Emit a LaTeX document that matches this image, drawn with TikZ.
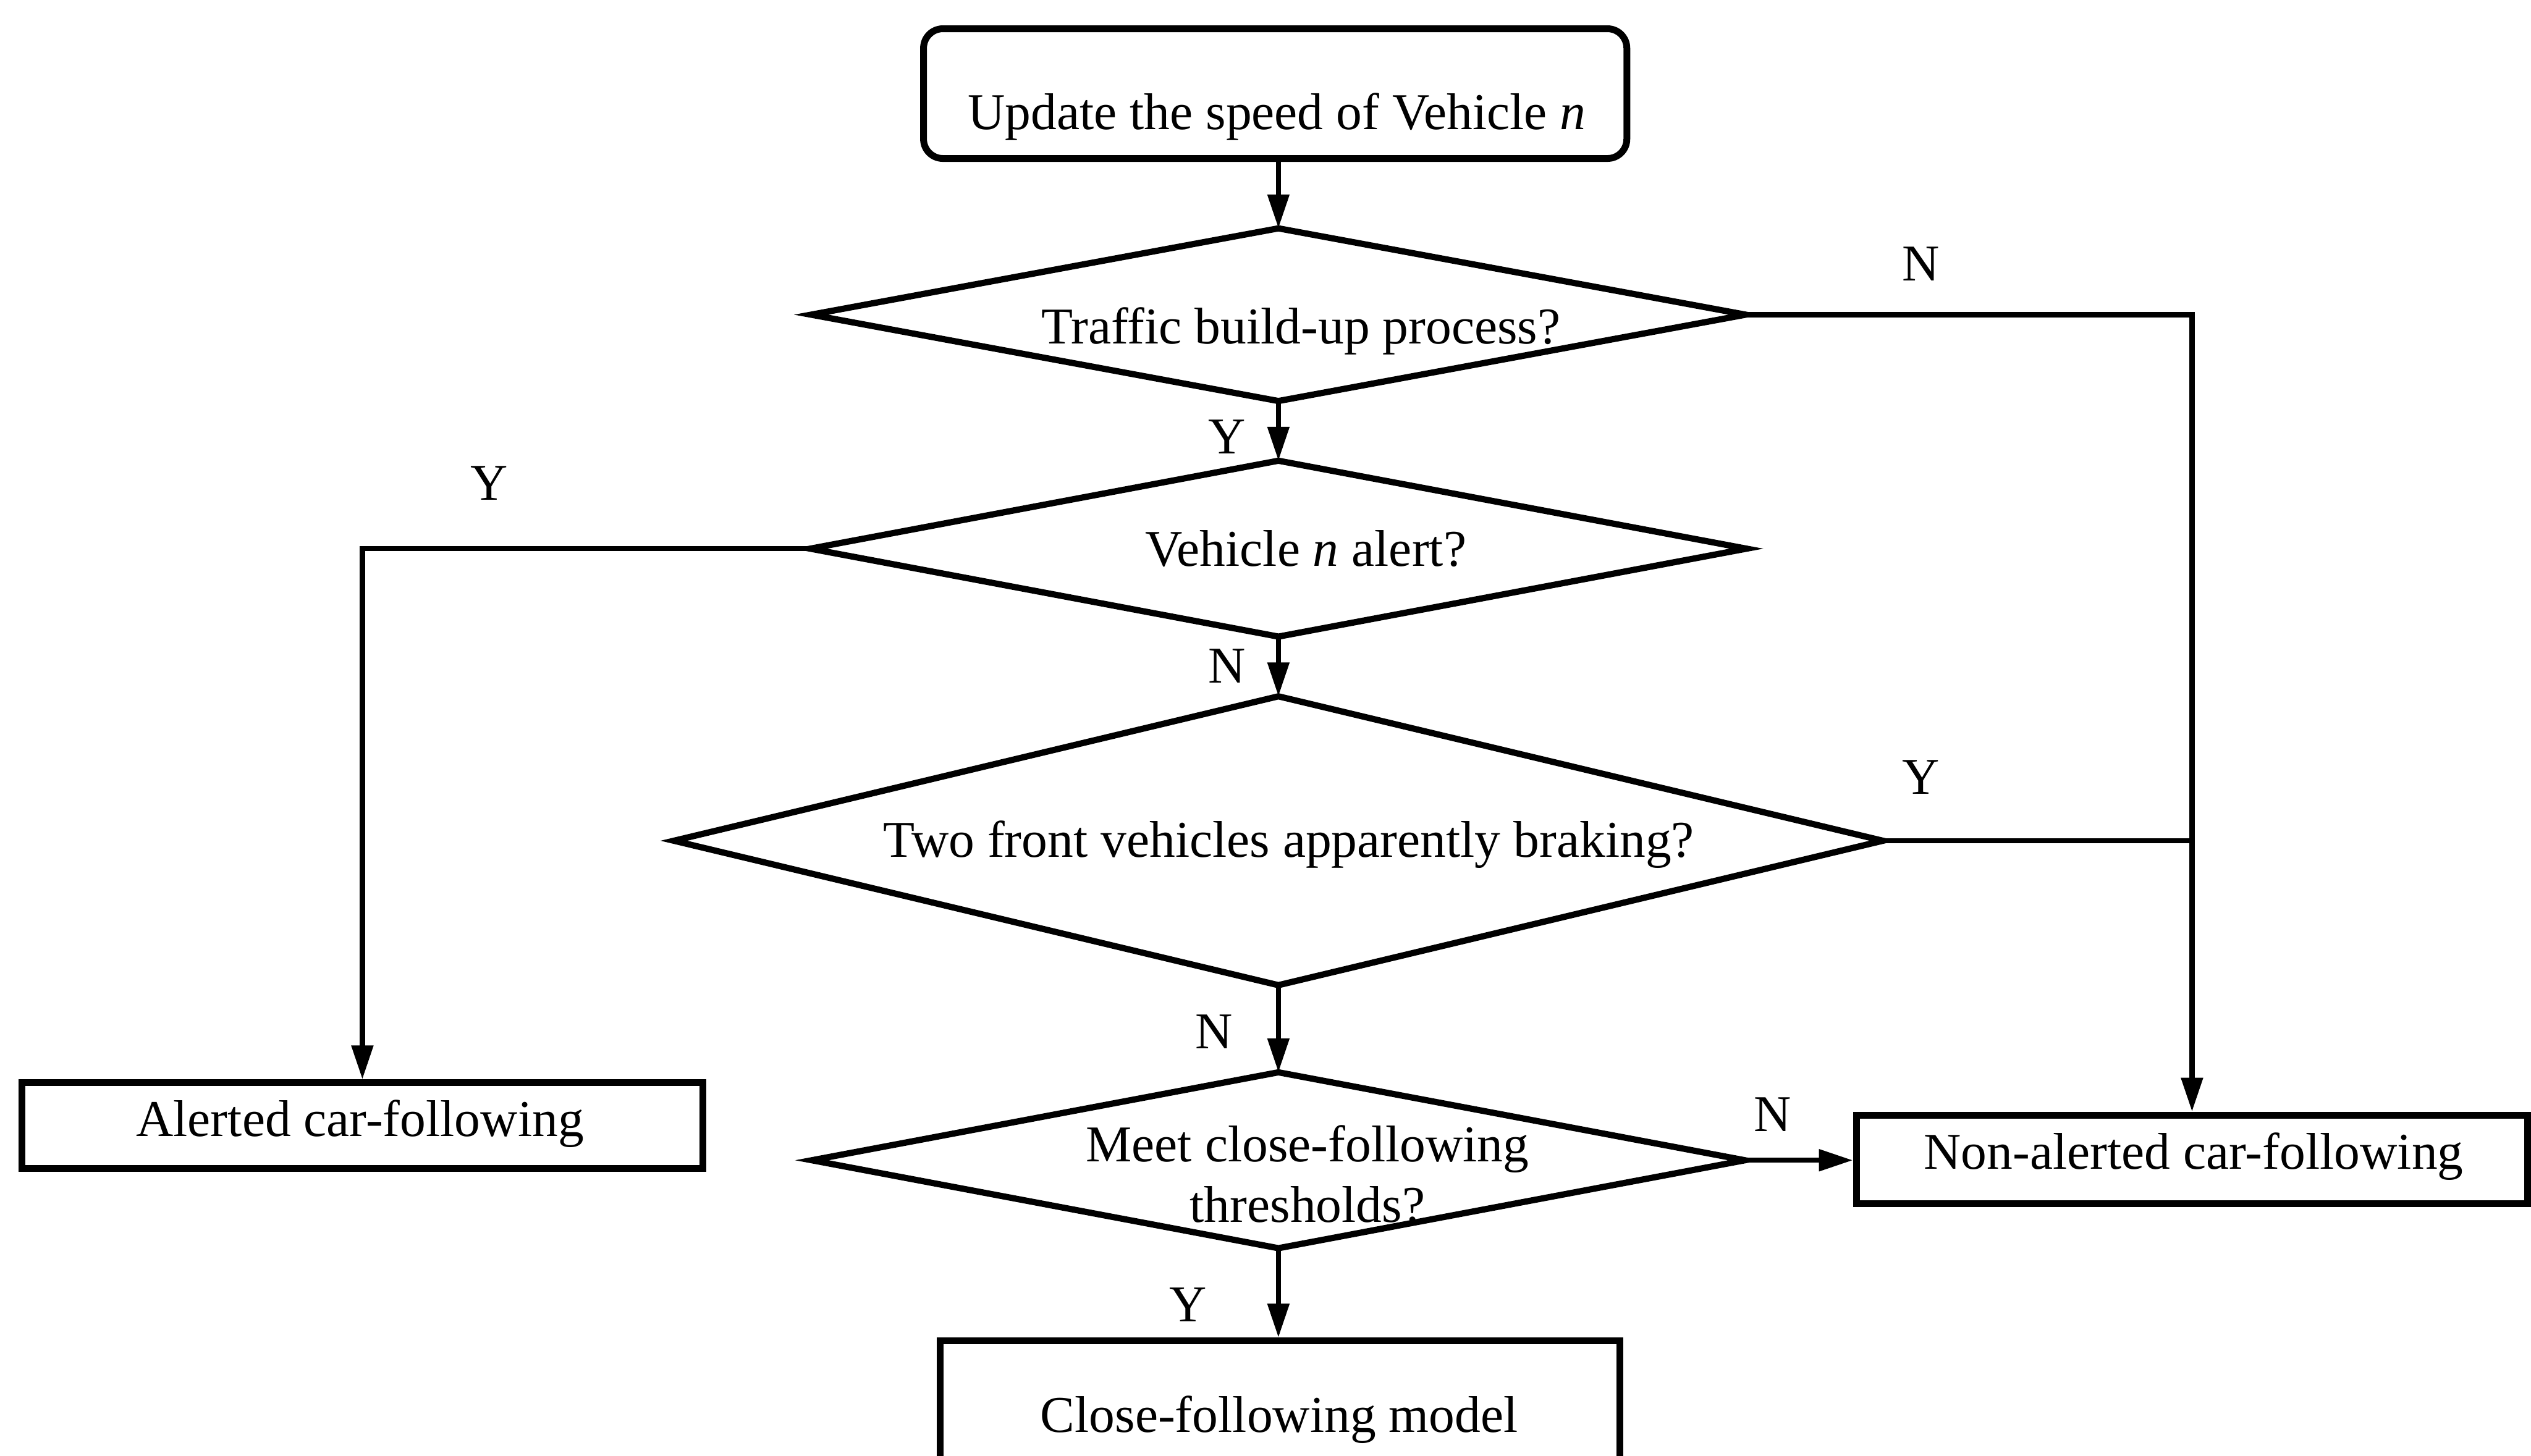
\documentclass[tikz,border=0pt]{standalone}
\usepackage{fontspec}
\setmainfont{Liberation Serif}
\usetikzlibrary{arrows.meta,shapes.geometric}
\begin{document}
\begin{tikzpicture}[x=0.1mm,y=-0.1mm,
  every node/.style={font=\fontsize{9.1}{10.7}\selectfont},
  procbox/.style={draw,line width=1.2pt,rectangle,inner sep=0pt},
  decision/.style={draw,line width=1.1pt,diamond,inner sep=0pt,outer sep=0pt},
  txt/.style={anchor=base,inner sep=0pt},
  lbl/.style={anchor=base,inner sep=0pt},
  link/.style={line width=0.9pt},
  flow/.style={link,-{Triangle[length=2.1mm,width=1.3mm]}}]
\useasboundingbox (0,0) rectangle (1568,902);
\fill[white] (0,0) rectangle (1568,902);

% process boxes
\node[procbox,rounded corners=1.2mm,minimum width=43.57mm,minimum height=8.04mm] (start) at (790,58) {};
\node[txt] (startT) at (791,80) {Update the speed of Vehicle \textit{n}};

\node[procbox,minimum width=42.2mm,minimum height=5.3mm] (alert) at (224.5,697.5) {};
\node[txt] (alertT) at (223,704) {Alerted car-following};

\node[procbox,minimum width=41.6mm,minimum height=5.5mm] (nonal) at (1358,718.5) {};
\node[txt] (nonalT) at (1359,724.5) {Non-alerted car-following};

\node[procbox,minimum width=42.1mm,minimum height=10.9mm] (close) at (793,885.5) {};
\node[txt] (closeT) at (792.5,887.5) {Close-following model};

% decisions
\node[decision,minimum width=57.9mm,minimum height=10.7mm] (d1) at (792,195) {};
\node[txt] (d1T) at (806,213) {Traffic build-up process?};

\node[decision,minimum width=58mm,minimum height=10.9mm] (d2) at (792,340) {};
\node[txt] (d2T) at (809,351) {Vehicle \textit{n} alert?};

\node[decision,minimum width=74.9mm,minimum height=17.9mm] (d3) at (792,521) {};
\node[txt] (d3T) at (798.5,531) {Two front vehicles apparently braking?};

\node[decision,minimum width=57.8mm,minimum height=10.9mm] (d4) at (792,719) {};
\node[txt] (d4T1) at (810,719.7) {Meet close-following};
\node[txt] (d4T2) at (810,757.5) {thresholds?};

% branch labels
\node[lbl] (yA) at (760,281) {Y};
\node[lbl] (yB) at (303,310) {Y};
\node[lbl] (nA) at (1190,174) {N};
\node[lbl] (nB) at (760,423) {N};
\node[lbl] (yC) at (1190,492) {Y};
\node[lbl] (nC) at (752,650) {N};
\node[lbl] (nD) at (1098,701) {N};
\node[lbl] (yD) at (736,819) {Y};

% connectors
\draw[flow] (start.south -| d1.north) -- (d1.north);
\draw[flow] (d1.east) -- (d1.east -| nonal.north) -- (nonal.north);
\draw[flow] (d1.south) -- (d2.north);
\draw[flow] (d2.west) -- (d2.west -| alert.north) -- (alert.north);
\draw[flow] (d2.south) -- (d3.north);
\draw[link] (d3.east) -- (d3.east -| nonal.north);
\draw[flow] (d3.south) -- (d4.north);
\draw[flow] (d4.east) -- (d4.east -| nonal.west);
\draw[flow] (d4.south) -- (d4.south |- close.north);
\end{tikzpicture}
\end{document}
